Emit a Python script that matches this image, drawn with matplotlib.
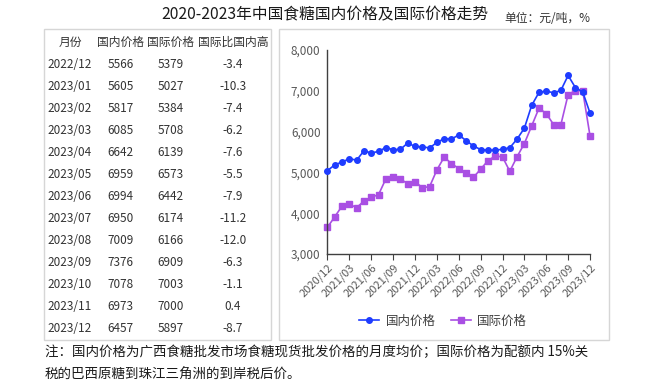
import matplotlib
matplotlib.use("Agg")
import matplotlib.pyplot as plt
from matplotlib.patches import Rectangle

plt.rcParams['font.family'] = ['Noto Sans CJK SC', 'DejaVu Sans']

# ---- data ----
tick_labels = ['2020/12', '2021/03', '2021/06', '2021/09', '2021/12', '2022/03',
               '2022/06', '2022/09', '2022/12', '2023/03', '2023/06', '2023/09', '2023/12']
domestic = [5045, 5185, 5255, 5335, 5300, 5530, 5475, 5515, 5610, 5555, 5565, 5720,
            5635, 5625, 5600, 5735, 5825, 5815, 5920, 5780, 5650, 5560, 5545, 5545,
            5566, 5605, 5817, 6085, 6642, 6959, 6994, 6950, 7009, 7376, 7078, 6973, 6457]
international = [3655, 3915, 4175, 4220, 4135, 4300, 4390, 4455, 4840, 4880, 4840, 4720,
                 4775, 4625, 4650, 5060, 5375, 5215, 5095, 4980, 4875, 5080, 5285, 5405,
                 5379, 5027, 5384, 5708, 6139, 6573, 6442, 6174, 6166, 6909, 7003, 7000, 5897]

table_months = ['2022/12', '2023/01', '2023/02', '2023/03', '2023/04', '2023/05', '2023/06',
                '2023/07', '2023/08', '2023/09', '2023/10', '2023/11', '2023/12']
table_dom = ['5566', '5605', '5817', '6085', '6642', '6959', '6994', '6950', '7009', '7376',
             '7078', '6973', '6457']
table_int = ['5379', '5027', '5384', '5708', '6139', '6573', '6442', '6174', '6166', '6909',
             '7003', '7000', '5897']
table_diff = ['-3.4', '-10.3', '-7.4', '-6.2', '-7.6', '-5.5', '-7.9', '-11.2', '-12.0', '-6.3',
              '-1.1', '0.4', '-8.7']
table_header = ['月份', '国内价格', '国际价格', '国际比国内高']

W, H = 651, 389
fig = plt.figure(figsize=(W / 100, H / 100), dpi=100)


def fx(x):
    return x / W


def fy(y):
    return 1 - y / H


# panel boxes
for (x0, y0, x1, y1) in [(44, 29, 271, 340), (279, 29, 609, 340)]:
    fig.patches.append(Rectangle((fx(x0), fy(y1)), fx(x1 - x0), (y1 - y0) / H,
                                 transform=fig.transFigure, fill=False,
                                 edgecolor='#d6d6d6', linewidth=1.0))

# titles
fig.text(fx(325), fy(15), '2020-2023年中国食糖国内价格及国际价格走势', ha='center', va='center',
         fontsize=11.3, color='#1a1a1a')
fig.text(fx(547), fy(18), '单位：元/吨，%', ha='center', va='center', fontsize=8.5,
         color='#333333')

# table
col_x = [70, 120.5, 170.5, 233]
fig_txt_color = '#333333'
for cx, h in zip(col_x, table_header):
    fig.text(fx(cx), fy(42), h, ha='center', va='center', fontsize=8.5, color=fig_txt_color)
for i in range(len(table_months)):
    y = 64 + 22.03 * i
    for cx, val in zip(col_x, [table_months[i], table_dom[i], table_int[i], table_diff[i]]):
        fig.text(fx(cx), fy(y), val, ha='center', va='center', fontsize=8.5,
                 color=fig_txt_color)

# chart
ax = fig.add_axes([fx(327.5), fy(254), fx(590 - 327.5), (254 - 50) / H])
x = list(range(len(domestic)))
ax.plot(x, domestic, color='#1E3CFF', marker='o', markersize=4, linewidth=1.2,
        label='国内价格', clip_on=False, zorder=3)
ax.plot(x, international, color='#A94FE3', marker='s', markersize=4, linewidth=1.2,
        label='国际价格', clip_on=False, zorder=2)
ax.set_xlim(0, 36)
ax.set_ylim(3000, 8000)
ax.set_yticks([3000, 4000, 5000, 6000, 7000, 8000])
ax.set_yticklabels(['3,000', '4,000', '5,000', '6,000', '7,000', '8,000'])
ax.set_xticks(list(range(0, 37, 3)))
ax.set_xticklabels(tick_labels, rotation=45, ha='right', rotation_mode='anchor')
for s in ['top', 'right']:
    ax.spines[s].set_visible(False)
for s in ['left', 'bottom']:
    ax.spines[s].set_color('#404040')
    ax.spines[s].set_linewidth(1.0)
ax.tick_params(axis='y', length=0, pad=5, labelsize=8.5, labelcolor='#595959')
ax.tick_params(axis='x', length=4, width=0.8, color='#404040', pad=2, labelsize=8,
               labelcolor='#595959')
ax.set_facecolor('none')

leg = fig.legend(loc='center', bbox_to_anchor=(fx(443), fy(321)), ncol=2, frameon=False,
                 fontsize=9, handlelength=1.6, handletextpad=0.5, columnspacing=1.2,
                 labelcolor='#404040')

# footnote
fig.text(fx(45), fy(352), '注：国内价格为广西食糖批发市场食糖现货批发价格的月度均价；国际价格为配额内 15%关',
         ha='left', va='center', fontsize=9.7, color='#1a1a1a')
fig.text(fx(45), fy(375), '税的巴西原糖到珠江三角洲的到岸税后价。', ha='left', va='center',
         fontsize=9.7, color='#1a1a1a')

fig.savefig('out.png', dpi=100)
